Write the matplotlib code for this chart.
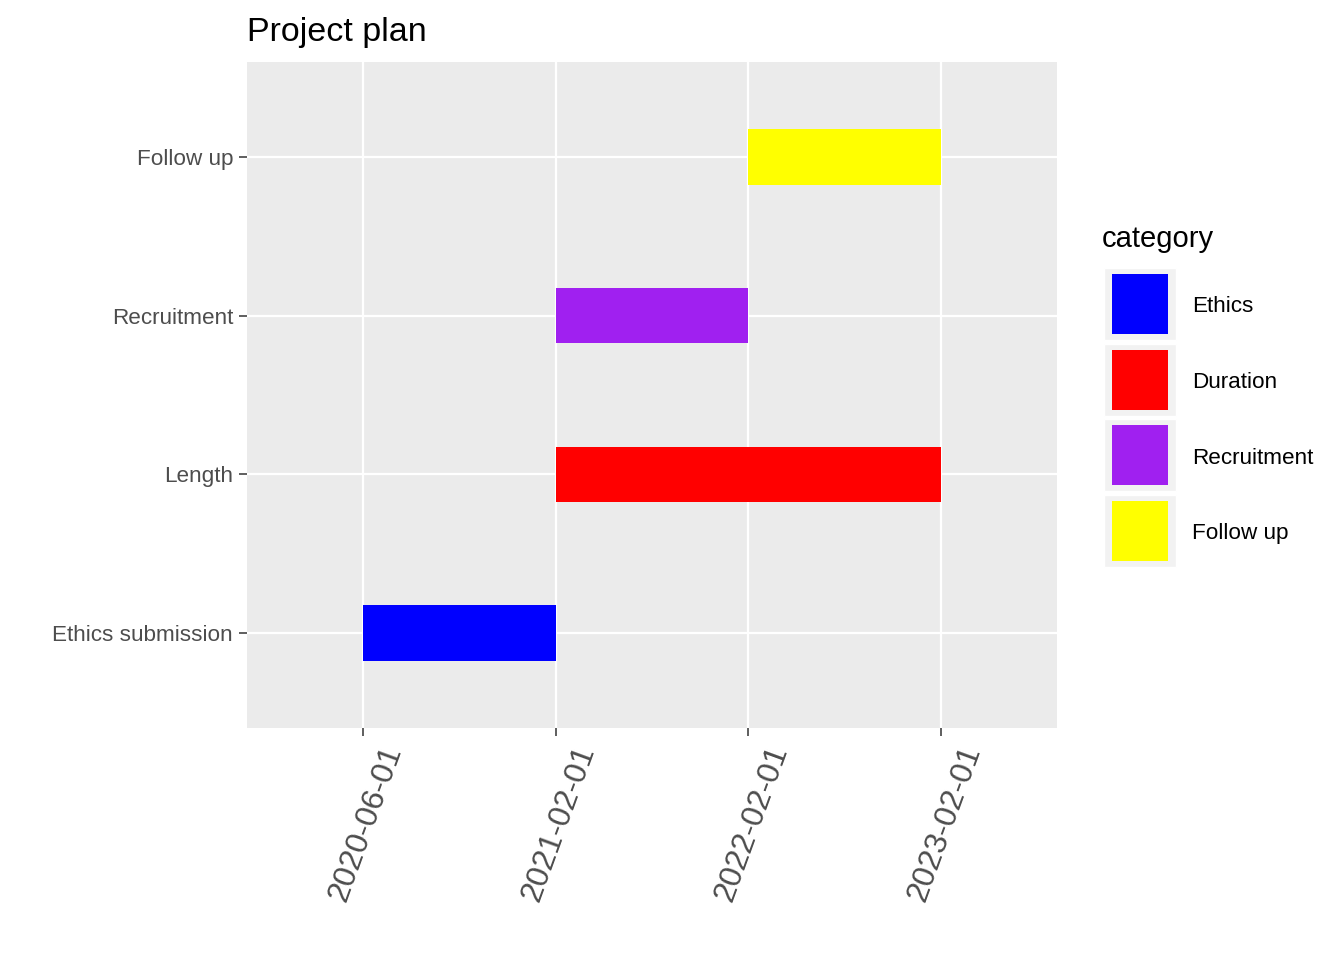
import matplotlib
matplotlib.use('Agg')
import matplotlib.pyplot as plt
import matplotlib.transforms as mtransforms
from matplotlib.patches import Rectangle

plt.rcParams['font.family'] = ['Liberation Sans', 'DejaVu Sans']

# data
tasks = ['Ethics submission', 'Length', 'Recruitment', 'Follow up']
starts = ['2020-06-01', '2021-02-01', '2021-02-01', '2022-02-01']
ends = ['2021-02-01', '2023-02-01', '2022-02-01', '2023-02-01']
category = ['Ethics', 'Duration', 'Recruitment', 'Follow up']
cat_order = ['Ethics', 'Duration', 'Recruitment', 'Follow up']
cat_colors = {'Ethics': '#0000FF', 'Duration': '#FF0000',
              'Recruitment': '#A020F0', 'Follow up': '#FFFF00'}

# discrete date axis like ggplot factor scale
date_levels = sorted(set(starts + ends))
xpos = {d: i + 1 for i, d in enumerate(date_levels)}

fig = plt.figure(figsize=(13.44, 9.6), dpi=100)
ax = fig.add_axes([247/1344, 1-728/960, 810/1344, 666/960])
ax.set_facecolor('#EBEBEB')

for i, t in enumerate(tasks):
    x0 = xpos[starts[i]]
    x1 = xpos[ends[i]]
    ax.barh(i + 1, x1 - x0, left=x0, height=0.35,
            color=cat_colors[category[i]], zorder=3)

ax.set_xlim(0.4, len(date_levels) + 0.6)
ax.set_ylim(0.4, len(tasks) + 0.6)
ax.set_xticks(range(1, len(date_levels) + 1))
ax.set_xticklabels([])
# rotated labels drawn as text, shifted right of the tick like ggplot does
trans = ax.get_xaxis_transform() + mtransforms.ScaledTranslation(
    17/100, -13/100, fig.dpi_scale_trans)
for d in date_levels:
    ax.text(xpos[d], 0, d, transform=trans, rotation=70, ha='right', va='top',
            rotation_mode='anchor', fontsize=23, color='#4D4D4D')
ax.set_yticks(range(1, len(tasks) + 1))
ax.set_yticklabels(tasks, fontsize=16.2, color='#4D4D4D')
ax.tick_params(axis='both', length=6, width=1.1, color='#333333', pad=4)
ax.grid(True, color='white', linewidth=1.6, zorder=0)
ax.set_axisbelow(True)
for s in ax.spines.values():
    s.set_visible(False)

fig.text(247/1344, 1-32/960, 'Project plan', fontsize=24.5, va='center', ha='left')

# legend drawn by hand in ggplot style
fig.text(1102/1344, 1-239/960, 'category', fontsize=21, va='center', ha='left')
key_top = 268
key_h = 75.5
for j, c in enumerate(cat_order):
    top = key_top + j * key_h
    fig.patches.append(Rectangle((1104/1344, 1-(top+72)/960), 72/1344, 72/960,
                                 transform=fig.transFigure, facecolor='#F2F2F2',
                                 edgecolor='white', linewidth=1))
    fig.patches.append(Rectangle((1112/1344, 1-(top+66)/960), 56/1344, 60/960,
                                 transform=fig.transFigure, facecolor=cat_colors[c],
                                 edgecolor='none'))
    fig.text(1192/1344, 1-(top+39)/960, c, fontsize=16.2, va='center', ha='left')

fig.savefig('out.png', dpi=100)
plt.close(fig)
